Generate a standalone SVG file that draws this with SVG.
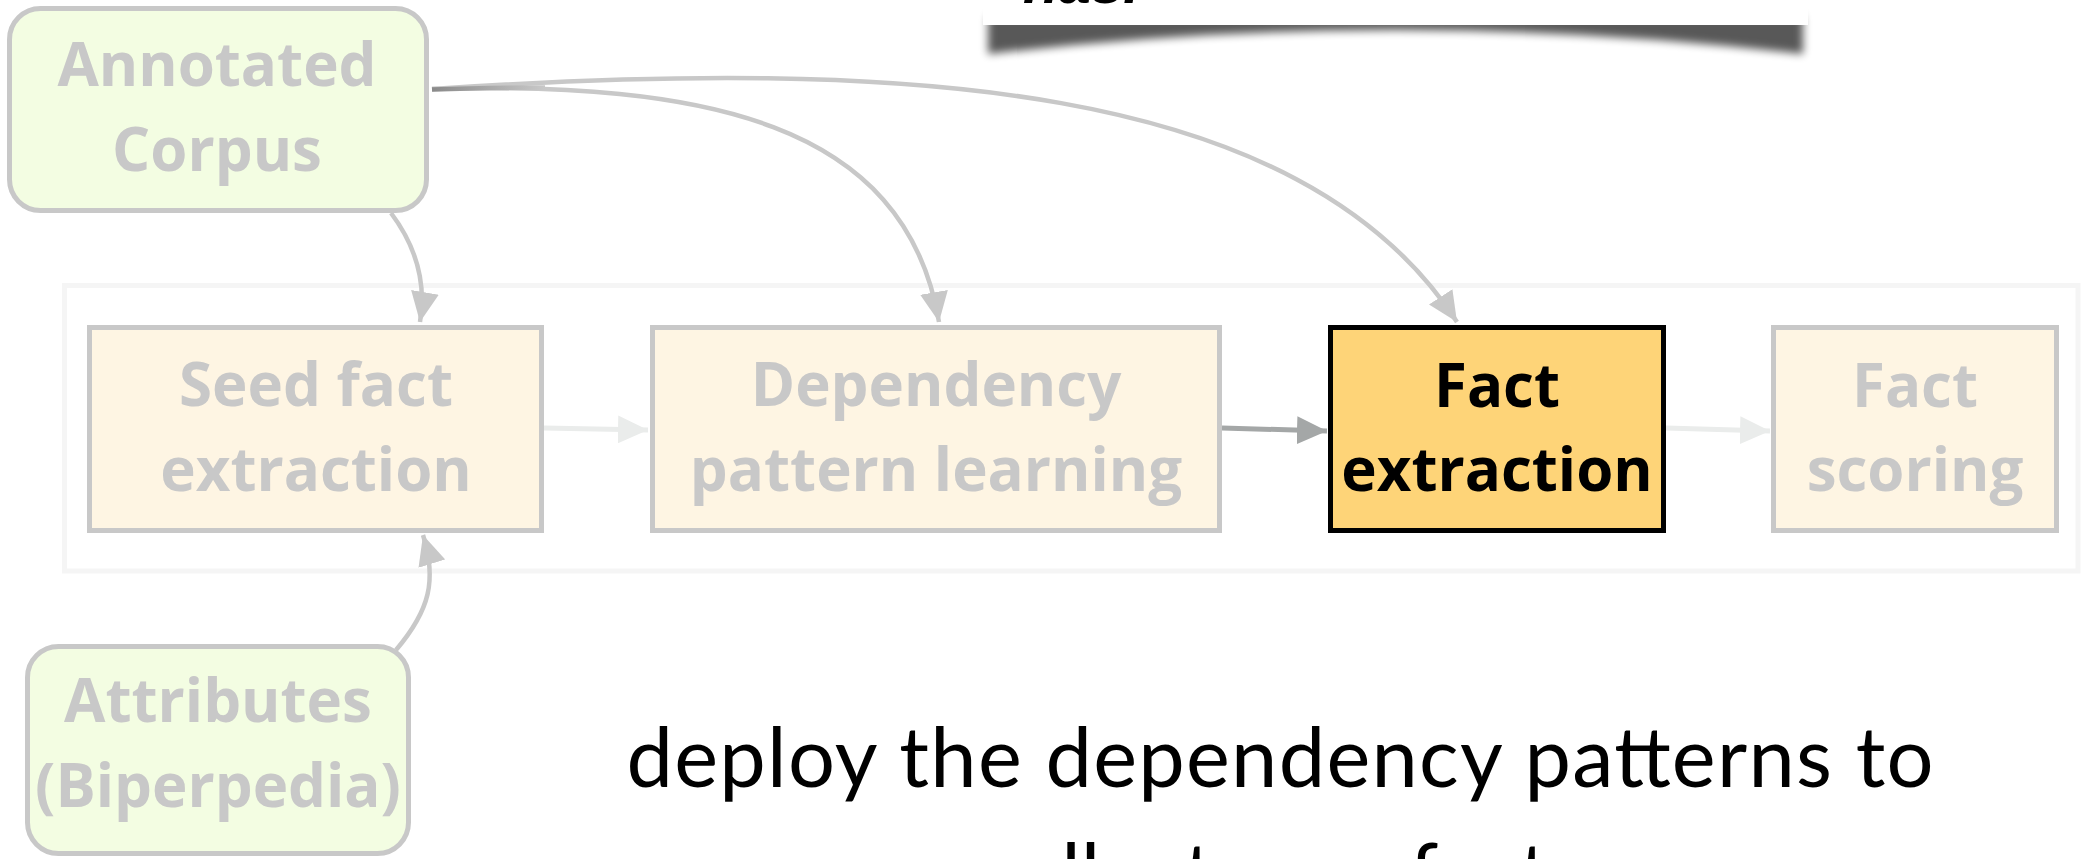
<svg xmlns="http://www.w3.org/2000/svg" width="2082" height="859" viewBox="0 0 2082 859">
<defs>
<style>
.box{stroke-width:5}
.faded rect{fill:#fef5e3;stroke:#c8c8c8}
.src rect{fill:#f3fde2;stroke:#c8c8c8}
.lbl{font-family:"Open Sans","Noto Sans",sans-serif;font-weight:700;font-size:60px;text-anchor:middle}
.gray{fill:#c8c8c8}
.conn{fill:none;stroke-width:4.5}
.c-gray{stroke:#c8c8c8}
.c-light{stroke:#eaeceb;stroke-width:5}
.c-dark{stroke:#a4a7a7;stroke-width:5}
.body{font-family:Lato,"Open Sans",sans-serif;font-size:83px;fill:#000;text-anchor:middle}
</style>
<marker id="ah-gray" viewBox="0 0 30 28" refX="30" refY="14" markerWidth="30" markerHeight="28" markerUnits="userSpaceOnUse" orient="auto"><path d="M0,0 L30,14 L0,28 Z" fill="#c8c8c8"/></marker>
<marker id="ah-light" viewBox="0 0 30 28" refX="30" refY="14" markerWidth="30" markerHeight="28" markerUnits="userSpaceOnUse" orient="auto"><path d="M0,0 L30,14 L0,28 Z" fill="#eaeceb"/></marker>
<marker id="ah-dark" viewBox="0 0 30 28" refX="30" refY="14" markerWidth="30" markerHeight="28" markerUnits="userSpaceOnUse" orient="auto"><path d="M0,0 L30,14 L0,28 Z" fill="#a4a7a7"/></marker>
<filter id="blur" x="-5%" y="-100%" width="110%" height="300%"><feGaussianBlur stdDeviation="4.5"/></filter>
<linearGradient id="overlap" x1="432" y1="0" x2="545" y2="0" gradientUnits="userSpaceOnUse"><stop offset="0" stop-color="#8a8a8a"/><stop offset="1" stop-color="#c8c8c8"/></linearGradient>
</defs>
<rect width="2082" height="859" fill="#fff"/>

<g id="callout">
<path d="M988,16 L1803,16 L1803,54 Q1395,6 988,54 Z" fill="#000" opacity="0.65" filter="url(#blur)"/>
<rect x="983" y="-20" width="825" height="45" fill="#fff"/>
<text x="1023" y="3" font-family="'Liberation Sans',Arial,sans-serif" font-style="italic" font-weight="700" font-size="58" fill="#000">has.</text>
</g>

<rect id="pipeline" x="64.5" y="285.5" width="2013.5" height="285.5" fill="none" stroke="#f5f5f5" stroke-width="5"/>

<g id="connectors">
<path class="conn c-gray" d="M432,89 C900,58 1300,80 1457,322" marker-end="url(#ah-gray)"/>
<path class="conn c-gray" d="M432,89 C700,82 905,120 939,322" marker-end="url(#ah-gray)"/>
<path d="M432,89.5 C470,88 505,87.5 545,87.5" fill="none" stroke="url(#overlap)" stroke-width="4.5"/>
<path class="conn c-gray" d="M391,213 C415,245 427,280 420,322" marker-end="url(#ah-gray)"/>
<path class="conn c-gray" d="M396,650 C430,610 437,580 423,535" marker-end="url(#ah-gray)"/>
<path class="conn c-light" d="M544,428 L648,430" marker-end="url(#ah-light)"/>
<path class="conn c-dark" d="M1222,428 L1327,431" marker-end="url(#ah-dark)"/>
<path class="conn c-light" d="M1666,428 L1770,431" marker-end="url(#ah-light)"/>
</g>

<g id="annotated-corpus" class="src">
<rect class="box" x="9.5" y="8.5" width="417" height="202" rx="31"/>
<text class="lbl gray" x="217" y="86">Annotated</text>
<text class="lbl gray" x="217" y="171">Corpus</text>
</g>

<g id="attributes" class="src">
<rect class="box" x="27.5" y="646.5" width="381" height="207" rx="31"/>
<text class="lbl gray" x="218" y="722">Attributes</text>
<text class="lbl gray" x="218" y="807">(Biperpedia)</text>
</g>

<g id="seed-fact-extraction" class="faded">
<rect class="box" x="89.5" y="327.5" width="452" height="203"/>
<text class="lbl gray" x="316" y="406">Seed fact</text>
<text class="lbl gray" x="316" y="491">extraction</text>
</g>

<g id="dependency-pattern-learning" class="faded">
<rect class="box" x="652.5" y="327.5" width="567" height="203"/>
<text class="lbl gray" x="936" y="406">Dependency</text>
<text class="lbl gray" x="936" y="491">pattern learning</text>
</g>

<g id="fact-extraction">
<rect class="box" x="1330.5" y="327.5" width="333" height="203" fill="#fed478" stroke="#000"/>
<text class="lbl" x="1497" y="407" fill="#000">Fact</text>
<text class="lbl" x="1497" y="491" fill="#000">extraction</text>
</g>

<g id="fact-scoring" class="faded">
<rect class="box" x="1773.5" y="327.5" width="283" height="203"/>
<text class="lbl gray" x="1915" y="407">Fact</text>
<text class="lbl gray" x="1915" y="491">scoring</text>
</g>

<g id="caption">
<text class="body" x="1280" y="787" textLength="1307" lengthAdjust="spacing">deploy the dependency patterns to</text>
<text class="body" x="1280" y="903">collect new facts</text>
</g>
</svg>
